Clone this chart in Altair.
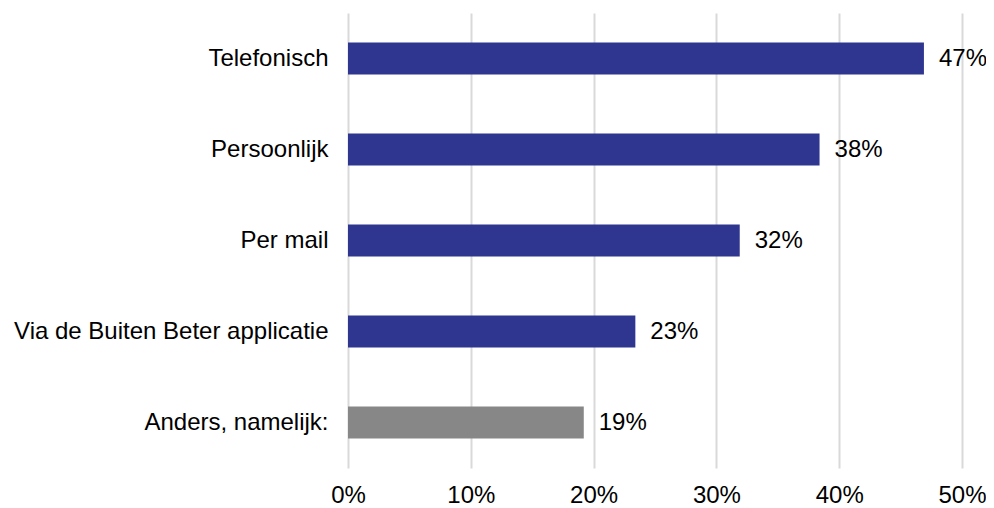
import altair as alt
import pandas as pd

categories = ["Telefonisch", "Persoonlijk", "Per mail", "Via de Buiten Beter applicatie", "Anders, namelijk:"]
values = [46.9, 38.4, 31.9, 23.4, 19.2]
labels = ["47%", "38%", "32%", "23%", "19%"]
groups = ["main", "main", "main", "main", "other"]

df = pd.DataFrame({"cat": categories, "val": values, "label": labels, "grp": groups})

FONT = "Liberation Sans"
FS = 24

y = alt.Y("cat:N", sort=categories, title=None,
          scale=alt.Scale(paddingInner=0.65, paddingOuter=0.325),
          axis=alt.Axis(domain=False, ticks=False, labelFont=FONT, labelFontSize=FS,
                        labelColor="#000000", labelPadding=20, labelLimit=400))
x = alt.X("val:Q", title=None,
          scale=alt.Scale(domain=[0, 50], nice=False),
          axis=alt.Axis(values=[0, 10, 20, 30, 40, 50], labelExpr="datum.value + '%'",
                        domain=False, ticks=False, grid=True, gridColor="#D9D9D9", gridWidth=2,
                        labelFlush=False, labelFont=FONT, labelFontSize=FS,
                        labelColor="#000000", labelPadding=15))

bars = alt.Chart(df).mark_bar().encode(
    x=x, y=y,
    color=alt.Color("grp:N", scale=alt.Scale(domain=["main", "other"], range=["#2E3690", "#878787"]), legend=None),
)
text = alt.Chart(df).mark_text(align="left", baseline="middle", dx=15, font=FONT, fontSize=FS, color="#000000").encode(
    x="val:Q", y=alt.Y("cat:N", sort=categories), text="label:N"
)

chart = (bars + text).properties(
    width=614, height=455,
    background="white",
    autosize=alt.AutoSizeParams(type="none"),
    padding={"left": 340, "top": 5, "right": 24, "bottom": 40},
).configure_view(stroke=None)

chart.save("out.html", embed_options={"renderer": "svg", "actions": False})
